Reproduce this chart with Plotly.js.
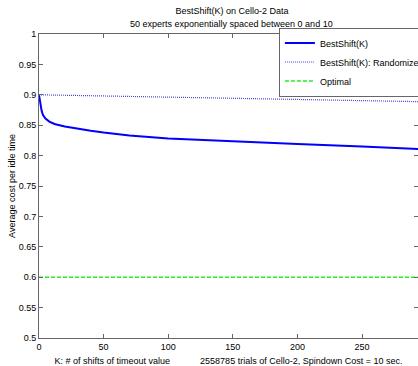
<!DOCTYPE html>
<html>
<head>
<meta charset="utf-8">
<script src="https://cdn.plot.ly/plotly-3.0.1.min.js"></script>
<style>html,body{margin:0;padding:0;background:#fff;}#chart{width:418px;height:366px;}</style>
</head>
<body>
<div id="chart"></div>
<script>
// Data
var kBest = [0, 1, 2, 3, 5, 8, 12, 20, 30, 40, 50, 70, 100, 130, 163, 200, 250, 300];
var vBest = [0.900, 0.885, 0.874, 0.867, 0.861, 0.856, 0.852, 0.848, 0.844, 0.841, 0.838, 0.833, 0.828, 0.825, 0.822, 0.819, 0.815, 0.810];
var kRand = [0, 50, 100, 150, 200, 250, 300];
var vRand = [0.900, 0.898, 0.897, 0.895, 0.893, 0.891, 0.8885];
var kOpt = [0, 300];
var vOpt = [0.6, 0.6];
var seriesNames = ['BestShift(K)', 'BestShift(K): Randomized', 'Optimal'];
var titleLine1 = 'BestShift(K) on Cello-2 Data';
var titleLine2 = '50 experts exponentially spaced between 0 and 10';
var yTickVals = [0.5, 0.55, 0.6, 0.65, 0.7, 0.75, 0.8, 0.85, 0.9, 0.95, 1];
var yTickText = ['0.5', '0.55', '0.6', '0.65', '0.7', '0.75', '0.8', '0.85', '0.9', '0.95', '1'];
var xTickVals = [0, 50, 100, 150, 200, 250];
var xTickText = ['0', '50', '100', '150', '200', '250'];

var FONT = 'Liberation Sans, Arial, Helvetica, sans-serif';
var AX = '#666666';

var traces = [
  {x: kBest, y: vBest, name: seriesNames[0], mode: 'lines', type: 'scatter',
   line: {color: '#0000ff', width: 2}},
  {x: kRand, y: vRand, name: seriesNames[1], mode: 'lines', type: 'scatter',
   line: {color: '#4646dc', width: 1.2, dash: '1px,1px'}},
  {x: kOpt, y: vOpt, name: seriesNames[2], mode: 'lines', type: 'scatter',
   line: {color: '#22ee22', width: 1.5, dash: '4px,2px'}}
];

var nb = '\u00a0';
function sp(n){ var s=''; for (var i=0;i<n;i++) s+=nb; return s; }

var H = 366;
var layout = {
  width: 418, height: H,
  margin: {l: 39, r: 0, t: 34, b: 28, autoexpand: false},
  paper_bgcolor: '#ffffff', plot_bgcolor: '#ffffff',
  font: {family: FONT, size: 9, color: '#000'},
  showlegend: true,
  hovermode: false,
  title: {
    text: titleLine1,
    font: {family: FONT, size: 9, color: '#000'},
    x: 0.509, xref: 'paper', xanchor: 'center',
    y: 1 - 11 / H, yref: 'container', yanchor: 'middle'
  },
  annotations: [
    {text: titleLine2, xref: 'paper', yref: 'paper', x: 0.509, y: (338 - 24) / 304,
     xanchor: 'center', yanchor: 'middle', showarrow: false,
     font: {family: FONT, size: 9, color: '#000'}}
  ],
  xaxis: {
    range: [0, 293.3], tickvals: xTickVals, ticktext: xTickText,
    ticks: 'inside', ticklen: 4, tickcolor: AX, showline: true, linecolor: AX, linewidth: 1,
    mirror: 'ticks', showgrid: false, zeroline: false,
    tickfont: {family: FONT, size: 9, color: '#000'},
    title: {text: sp(3) + 'K: # of shifts of timeout value' + sp(12) + '2558785 trials of Cello-2, Spindown Cost = 10 sec.',
            font: {family: FONT, size: 9, color: '#000'}, standoff: 7}
  },
  yaxis: {
    range: [0.5, 1], tickvals: yTickVals, ticktext: yTickText,
    ticks: 'inside', ticklen: 4, tickcolor: AX, showline: true, linecolor: AX, linewidth: 1,
    mirror: 'ticks', showgrid: false, zeroline: false,
    tickfont: {family: FONT, size: 9, color: '#000'},
    title: {text: 'Average cost per idle time', font: {family: FONT, size: 9, color: '#000'}, standoff: 1}
  },
  legend: {
    x: 0.633, xref: 'paper', xanchor: 'left',
    y: (338 - 27.5) / 304, yref: 'paper', yanchor: 'top',
    bgcolor: '#ffffff', bordercolor: AX, borderwidth: 1,
    font: {family: FONT, size: 9, color: '#000'},
    tracegroupgap: 0
  }
};

Plotly.newPlot('chart', traces, layout, {displayModeBar: false, staticPlot: true});
</script>
</body>
</html>
